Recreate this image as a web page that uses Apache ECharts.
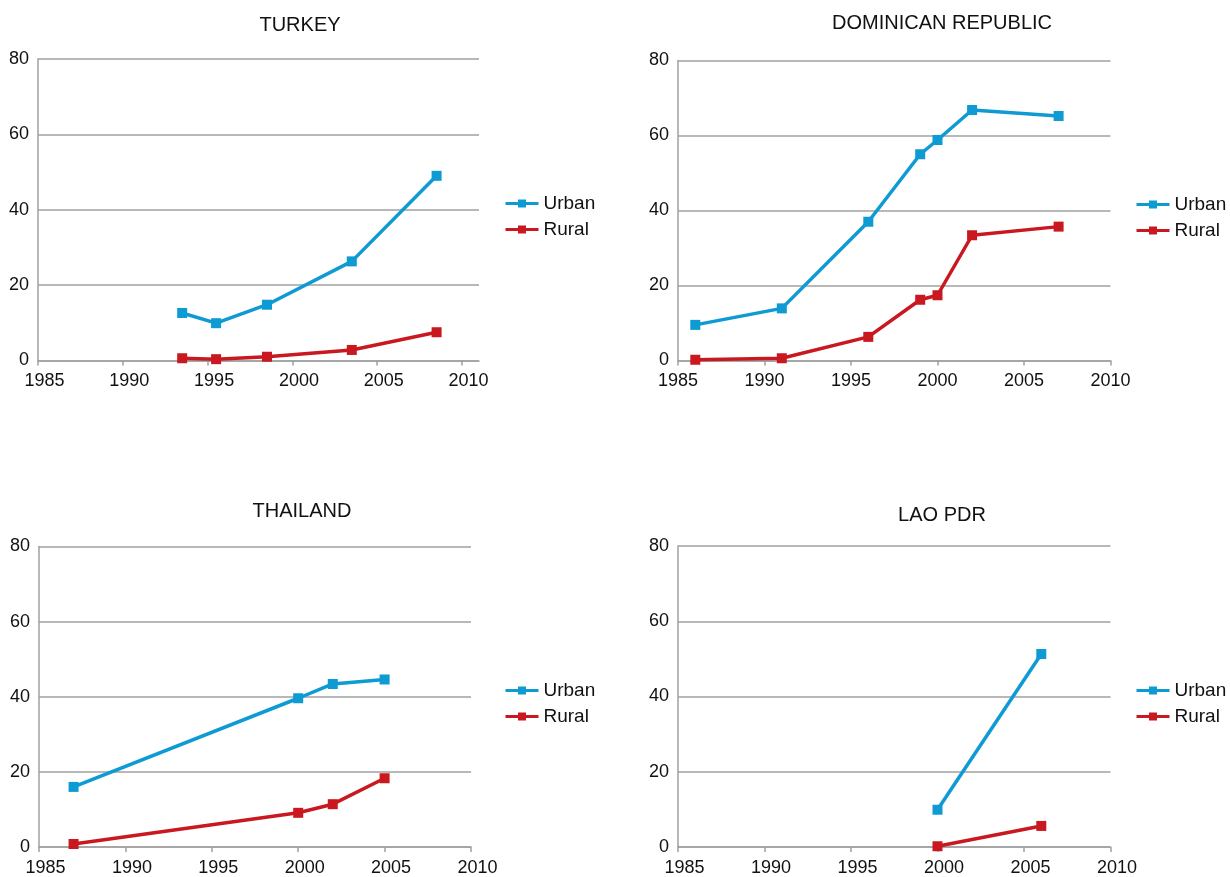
<!DOCTYPE html>
<html>
<head>
<meta charset="utf-8">
<script src="https://cdn.jsdelivr.net/npm/echarts@6/dist/echarts.min.js"></script>
<style>
html,body{margin:0;padding:0;background:#fff;}
#main{width:1230px;height:877px;}
</style>
</head>
<body>
<div id="main"></div>
<script>
// ---- data ----
const panelTitles = ['TURKEY', 'DOMINICAN REPUBLIC', 'THAILAND', 'LAO PDR'];
const seriesNames = ['Urban', 'Rural'];
const yearTicks = [1985, 1990, 1995, 2000, 2005, 2010];
const yTicks = [0, 20, 40, 60, 80];

const turkeyYears = [1993.5, 1995.5, 1998.5, 2003.5, 2008.5];
const turkeyUrban = [12.6, 9.9, 14.8, 26.3, 49.0];
const turkeyRural = [0.6, 0.35, 1.0, 2.8, 7.5];

const drYears = [1986, 1991, 1996, 1999, 2000, 2002, 2007];
const drUrban = [9.5, 13.9, 37.0, 55.0, 58.8, 66.8, 65.2];
const drRural = [0.2, 0.6, 6.3, 16.2, 17.4, 33.4, 35.7];

const thYears = [1987, 2000, 2002, 2005];
const thUrban = [16.0, 39.6, 43.4, 44.6];
const thRural = [0.8, 9.1, 11.4, 18.3];

const laoYears = [2000, 2006];
const laoUrban = [9.9, 51.3];
const laoRural = [0.2, 5.6];

// ---- layout / style ----
const colors = ['#0e9ad3', '#c9181f'];
const font = 'Liberation Sans, Arial, sans-serif';
const gridColor = '#a0a0a0';

const panels = [
  {years: turkeyYears, urban: turkeyUrban, rural: turkeyRural, xMax: 2011, labelShift: 13,
   grid: {left: 38, top: 59, width: 441, height: 301.5},
   title: {x: 300, y: 15}, legend: {x: 504, y: 194}},
  {years: drYears, urban: drUrban, rural: drRural, xMax: 2010, labelShift: 0,
   grid: {left: 678, top: 60.5, width: 432.5, height: 300},
   title: {x: 942, y: 13}, legend: {x: 1135, y: 195}},
  {years: thYears, urban: thUrban, rural: thRural, xMax: 2010, labelShift: 13,
   grid: {left: 39, top: 546.5, width: 432, height: 302},
   title: {x: 302, y: 501}, legend: {x: 504, y: 681}},
  {years: laoYears, urban: laoUrban, rural: laoRural, xMax: 2010, labelShift: 13,
   grid: {left: 678, top: 546, width: 432.5, height: 302},
   title: {x: 942, y: 505}, legend: {x: 1135, y: 681}}
];

const option = {
  animation: false,
  backgroundColor: '#fff',
  textStyle: {fontFamily: font},
  title: [], legend: [], grid: [], xAxis: [], yAxis: [], series: []
};

panels.forEach((p, i) => {
  option.title.push({
    text: panelTitles[i], left: p.title.x, top: p.title.y, textAlign: 'center', padding: 0,
    textStyle: {fontFamily: font, fontSize: 20, fontWeight: 'normal', color: '#111'}
  });
  option.legend.push({
    data: seriesNames, orient: 'vertical', left: p.legend.x, top: p.legend.y, padding: 0,
    itemWidth: 33, itemHeight: 10, itemGap: 7,
    lineStyle: {width: 3},
    textStyle: {fontFamily: font, fontSize: 19, color: '#111'},
    selectedMode: false
  });
  option.grid.push(Object.assign({containLabel: false}, p.grid));
  option.xAxis.push({
    type: 'value', gridIndex: i, min: 1985, max: p.xMax, interval: 5,
    axisLine: {show: true, onZero: false, lineStyle: {color: gridColor, width: 1.5}},
    axisTick: {show: true, length: 5, lineStyle: {color: gridColor, width: 1.5}, customValues: yearTicks},
    axisLabel: {
      customValues: yearTicks,
      fontFamily: font, fontSize: 18, color: '#111', margin: 12,
      padding: [0, 0, 0, p.labelShift],
      formatter: v => (yearTicks.indexOf(v) >= 0 ? String(v) : '')
    },
    splitLine: {show: false}
  });
  option.yAxis.push({
    type: 'value', gridIndex: i, min: 0, max: 80, interval: 20,
    axisLine: {show: true, lineStyle: {color: gridColor, width: 1.5}},
    axisTick: {show: false},
    axisLabel: {fontFamily: font, fontSize: 18, color: '#111', margin: 9},
    splitLine: {show: true, lineStyle: {color: gridColor, width: 1.5}}
  });
  [p.urban, p.rural].forEach((vals, k) => {
    option.series.push({
      name: seriesNames[k], type: 'line', xAxisIndex: i, yAxisIndex: i,
      data: p.years.map((yr, j) => [yr, vals[j]]),
      symbol: 'rect', symbolSize: 10, showSymbol: true,
      lineStyle: {width: 3.5, color: colors[k]},
      itemStyle: {color: colors[k]},
      z: 3 + (1 - k)
    });
  });
});

const chart = echarts.init(document.getElementById('main'), null, {renderer: 'canvas'});
chart.setOption(option);
</script>
</body>
</html>
